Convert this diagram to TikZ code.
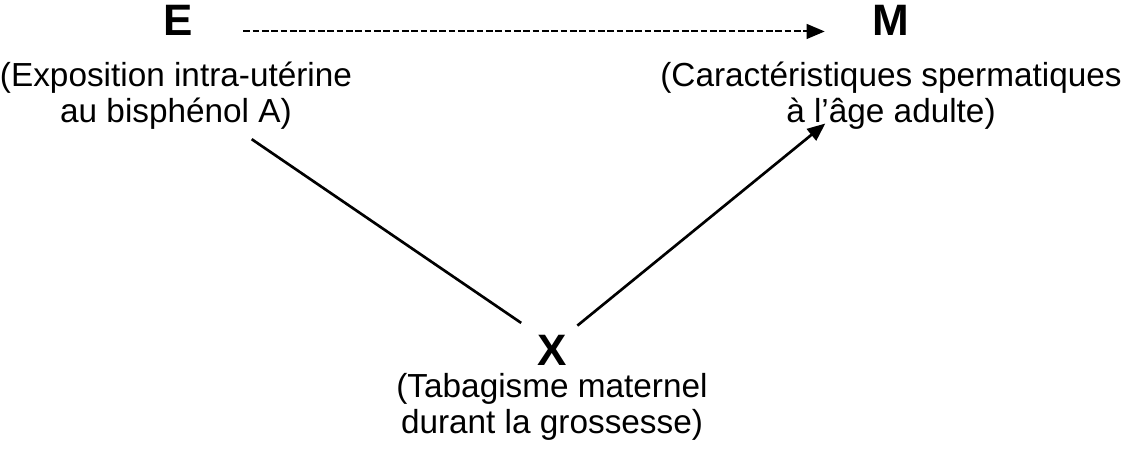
\documentclass[tikz,border=0pt]{standalone}
\usepackage{fontspec}
\setmainfont{Liberation Sans}
\usetikzlibrary{positioning,arrows.meta}

\begin{document}
\begin{tikzpicture}[x=0.75pt,y=-0.75pt,>={Triangle[length=13.5pt,width=11pt]},
    var/.style={font=\fontsize{33}{36}\selectfont\bfseries,inner sep=2pt},
    desc/.style={align=center,font=\fontsize{25}{27}\selectfont,inner sep=0pt},
    link/.style={line width=2pt}]
  \useasboundingbox (0,0) rectangle (1122,456);
  % variables
  \node[var] (E) at (178,20) {E};
  \node[var] (M) at (891,20) {M};
  \node[var] (X) at (552,350) {X};
  \node[desc,below=17.5pt of E,xshift=-1.5pt] (Ed) {(Exposition intra-utérine\\au bisphénol A)};
  \node[desc,below=17.5pt of M] (Md) {(Caractéristiques spermatiques\\à l’âge adulte)};
  \node[desc,below=4pt of X] (Xd) {(Tabagisme maternel\\durant la grossesse)};
  % links
  \draw[->,line width=1.5pt,dash pattern=on 5pt off 2pt,shorten <=35.7pt,shorten >=33.75pt]
    ([yshift=-8.6pt]E.east) -- ([yshift=-8.6pt]M.west);
  \draw[link,shorten <=13pt,shorten >=12pt] (Ed.331.5) -- (X.north west);
  \draw[link,->,shorten <=7.5pt,shorten >=-7pt] (X.north east) -- (Md.205.7);
\end{tikzpicture}
\end{document}
